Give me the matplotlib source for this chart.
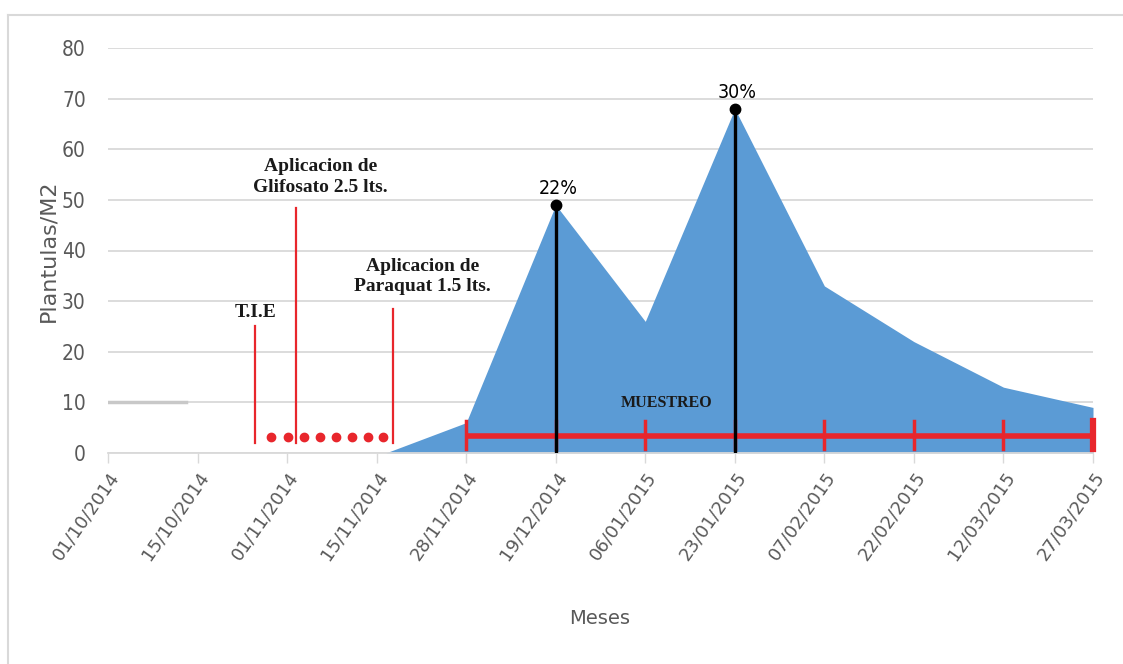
import matplotlib
matplotlib.use("Agg")
import matplotlib.pyplot as plt
from matplotlib.lines import Line2D

# fechas de muestreo (eje de categorias)
fechas = ["01/10/2014", "15/10/2014", "01/11/2014", "15/11/2014",
          "28/11/2014", "19/12/2014", "06/01/2015", "23/01/2015",
          "07/02/2015", "22/02/2015", "12/03/2015", "27/03/2015"]

# plantulas por m2
area_x = [3.1, 4, 5, 6, 7, 8, 9, 10, 11]
area_y = [0, 6, 49, 26, 68, 33, 22, 13, 9]

# picos marcados
picos_x = [5, 7]
picos_y = [49, 68]
picos_txt = ["22%", "30%"]

# eventos de manejo (posicion, altura, texto)
eventos_x = [1.64, 2.10, 3.18]
eventos_y = [25, 48.3, 28.5]
eventos_txt = ["T.I.E", "Aplicacion de\nGlifosato 2.5 lts.", "Aplicacion de\nParaquat 1.5 lts."]
eventos_lbl_x = [1.65, 2.37, 3.51]
eventos_lbl_y = [27.7, 54.5, 34.8]

puntos_x = [1.82, 2.01, 2.19, 2.37, 2.55, 2.72, 2.90, 3.07]
muestreo_x = [4, 5, 6, 7, 8, 9, 10, 11]

ROJO = "#e8262c"
AZUL = "#5b9bd5"
GRIS = "#595959"
GRID = "#d9d9d9"
SERIF = ["Liberation Serif", "DejaVu Serif"]

fig = plt.figure(figsize=(11.23, 6.64), dpi=100)
ax = fig.add_axes([108 / 1123, 1 - 453 / 664, 985 / 1123, 405 / 664])

# borde del area del grafico
fig.add_artist(Line2D([8 / 1123, 8 / 1123], [0, 1 - 15 / 664], color=GRID, lw=1.5))
fig.add_artist(Line2D([8 / 1123, 1], [1 - 15 / 664, 1 - 15 / 664], color=GRID, lw=1.5))

ax.fill_between(area_x, area_y, 0, color=AZUL, lw=0, zorder=2)

# eventos
for x, h in zip(eventos_x, eventos_y):
    ax.plot([x, x], [2, h], color=ROJO, lw=1.6, zorder=3)
for x, y, t in zip(eventos_lbl_x, eventos_lbl_y, eventos_txt):
    ax.text(x, y, t, ha="center", va="center", fontsize=14, fontweight="bold",
            family=SERIF, color="#1a1a1a", linespacing=1.25, zorder=5)
ax.plot(puntos_x, [3.2] * len(puntos_x), "o", color=ROJO, ms=6, zorder=3)

# periodo de muestreo
ax.plot([muestreo_x[0], muestreo_x[-1]], [3.3, 3.3], color=ROJO, lw=4,
        solid_capstyle="butt", zorder=3, clip_on=False)
for x in muestreo_x:
    ax.plot([x, x], [0.8, 6.3], color=ROJO, lw=2.5 if x < 11 else 4.5,
            zorder=3, clip_on=False)
ax.text(6.24, 9.9, "MUESTREO", ha="center", va="center", fontsize=11.5,
        fontweight="bold", family=SERIF, color="#1a1a1a", zorder=5)

# picos
for x, y, t in zip(picos_x, picos_y, picos_txt):
    ax.plot([x, x], [0, y], color="black", lw=2.4, zorder=4)
    ax.plot(x, y, "o", color="black", ms=7.5, zorder=4)
    ax.text(x + 0.03, y + 3.2, t, ha="center", va="center", fontsize=14,
            family="DejaVu Sans", fontstretch="condensed", color="black", zorder=5)

# grilla corta en 10 del inicio
ax.plot([0, 0.87], [10, 10], color="#c8c8c8", lw=2.5, zorder=1)

ax.set_xlim(0, 11)
ax.set_ylim(0, 80)
ax.set_yticks(range(0, 81, 10))
ax.set_xticks(range(len(fechas)))
ax.set_xticklabels(fechas, rotation=55, ha="right", va="top",
                   rotation_mode="anchor", fontsize=13, color=GRIS)
for lbl in ax.get_yticklabels():
    lbl.set_fontstretch("condensed")
ax.tick_params(axis="y", length=0, pad=16, labelsize=15, labelcolor=GRIS)
ax.tick_params(axis="x", length=7, width=1, color=GRID, pad=4)
ax.grid(axis="y", color=GRID, lw=1.3, zorder=0)
ax.set_axisbelow(True)
for s in ["top", "right", "left"]:
    ax.spines[s].set_visible(False)
ax.spines["bottom"].set_color(GRID)
ax.spines["bottom"].set_linewidth(1.3)

fig.text(48 / 1123, 1 - 251 / 664, "Plantulas/M2", rotation=90, ha="center",
         va="center", fontsize=16, color=GRIS)
fig.text(600 / 1123, 1 - 618 / 664, "Meses", ha="center", va="center",
         fontsize=14, color=GRIS)

fig.savefig("out.png", dpi=100)
